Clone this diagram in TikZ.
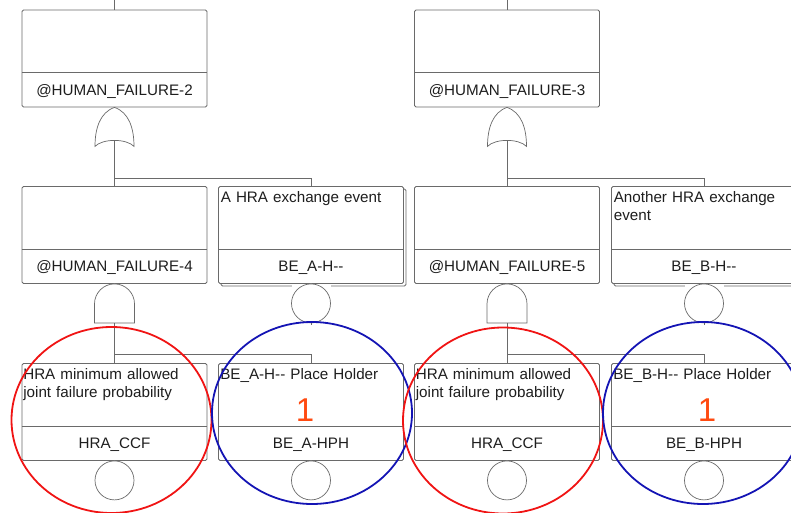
\documentclass[tikz,border=0pt]{standalone}
\usepackage{fontspec}
\setmainfont{Liberation Sans}
\usetikzlibrary{shadows}
\definecolor{ln}{HTML}{6A6A6A}
\definecolor{tx}{HTML}{1E1E1E}
\definecolor{onecol}{HTML}{FF4A10}
\definecolor{myblue}{HTML}{1414B4}
\definecolor{myred}{HTML}{F01414}
\newcommand\dd{-\kern0pt-}
\newcommand\myorgate[1]{\draw[gl,fill=white,shift={(#1)}] (0,0) .. controls (-14.5,5) and (-19.5,21) .. (-19.5,39) .. controls (-12,31) and (12,31) .. (19.5,39) .. controls (19.5,21) and (14.5,5) .. (0,0) -- cycle;}
\newcommand\myandgate[1]{\draw[gl,fill=white,shift={(#1)}] (-20,39) -- (-20,20) .. controls (-20,9) and (-11.05,0) .. (0,0) .. controls (11.05,0) and (20,9) .. (20,20) -- (20,39) -- cycle;}
\begin{document}
\begin{tikzpicture}[x=1pt,y=-1pt,
  gl/.style={draw=ln, line width=0.7pt},
  box/.style={draw=ln, line width=0.8pt, rounded corners=1.5pt, minimum width=185pt, minimum height=97pt, inner sep=0pt, fill=white},
  sbox/.style={box, copy shadow={shadow xshift=2.5pt, shadow yshift=-2.5pt, draw=ln, fill=white, line width=0.8pt}},
  lbl/.style={text=tx, font=\fontsize{15.2}{18}\selectfont, inner sep=0pt},
  desc/.style={lbl, anchor=north west, text width=182pt, align=left},
  onestyle/.style={text=onecol, font=\fontsize{33}{36}\selectfont, inner sep=0pt, anchor=base},
  ev/.style={circle, draw=ln, line width=0.7pt, minimum size=39pt, inner sep=0pt, fill=white},
  hl/.style={line width=1.8pt}]
\useasboundingbox (0,0) rectangle (791,513);
% boxes
\node[box] (hf2) at (114.5,58.5) {};
\node[box] (hf3) at (507,58.5) {};
\node[box] (hf4) at (114.5,235) {};
\node[sbox] (bea) at (311,235) {};
\node[box] (hf5) at (507,235) {};
\node[sbox] (beb) at (704,235) {};
\node[box] (ccfa) at (114.5,412) {};
\node[box] (bah) at (311,412) {};
\node[box] (ccfb) at (507,412) {};
\node[box] (bbh) at (704,412) {};
% dividers
\foreach \n in {hf2,hf3,hf4,bea,hf5,beb,ccfa,bah,ccfb,bbh}
  \draw[gl] ([yshift=35pt]\n.south west) -- ([yshift=35pt]\n.south east);
% labels
\node[lbl,anchor=base] (hf2l) at ([yshift=12.3pt]hf2.south) {@HUMAN\_FAILURE-2};
\node[lbl,anchor=base] (hf3l) at ([yshift=12.3pt]hf3.south) {@HUMAN\_FAILURE-3};
\node[lbl,anchor=base] (hf4l) at ([yshift=12.3pt]hf4.south) {@HUMAN\_FAILURE-4};
\node[lbl,anchor=base] (beal) at ([yshift=12.3pt]bea.south) {BE\_A-H\dd};
\node[lbl,anchor=base] (hf5l) at ([yshift=12.3pt]hf5.south) {@HUMAN\_FAILURE-5};
\node[lbl,anchor=base] (bebl) at ([yshift=12.3pt]beb.south) {BE\_B-H\dd};
\node[lbl,anchor=base] (ccfal) at ([yshift=12.3pt]ccfa.south) {HRA\_CCF};
\node[lbl,anchor=base] (bahl) at ([yshift=12.3pt]bah.south) {BE\_A-HPH};
\node[lbl,anchor=base] (ccfbl) at ([yshift=12.3pt]ccfb.south) {HRA\_CCF};
\node[lbl,anchor=base] (bbhl) at ([yshift=12.3pt]bbh.south) {BE\_B-HPH};
% descriptions
\node[desc] (bead) at ([xshift=2.5pt,yshift=-5pt]bea.north west) {A HRA exchange event};
\node[desc] (bebd) at ([xshift=2.5pt,yshift=-5pt]beb.north west) {Another HRA exchange event};
\node[desc] (ccfad) at ([xshift=1.5pt,yshift=-5pt]ccfa.north west) {HRA minimum allowed\\joint failure probability};
\node[desc] (bahd) at ([xshift=2pt,yshift=-5pt]bah.north west) {BE\_A-H\dd{} Place Holder};
\node[desc] (ccfbd) at ([xshift=1.5pt,yshift=-5pt]ccfb.north west) {HRA minimum allowed\\joint failure probability};
\node[desc] (bbhd) at ([xshift=2pt,yshift=-5pt]bbh.north west) {BE\_B-H\dd{} Place Holder};
\node[onestyle] (bahv) at ([xshift=-6pt,yshift=39.5pt]bah.south) {1};
\node[onestyle] (bbhv) at ([xshift=3pt,yshift=39.5pt]bbh.south) {1};
% top stubs
\coordinate (t2) at (114.5,0);
\coordinate (t3) at (507,0);
\draw[gl] (t2) -- (hf2.north);
\draw[gl] (t3) -- (hf3.north);
% OR gates and joins
\myorgate{hf2.south}
\myorgate{hf3.south}
\coordinate (or2b) at ([yshift=-33pt]hf2.south);
\coordinate (or3b) at ([yshift=-33pt]hf3.south);
\coordinate (j2) at ([yshift=-71pt]hf2.south);
\coordinate (j3) at ([yshift=-71pt]hf3.south);
\draw[gl] (or2b) -- (j2) -| (bea.north);
\draw[gl] (j2) -- (hf4.north);
\draw[gl] (or3b) -- (j3) -| (beb.north);
\draw[gl] (j3) -- (hf5.north);
% AND gates and joins
\myandgate{hf4.south}
\myandgate{hf5.south}
\coordinate (and4b) at ([yshift=-39pt]hf4.south);
\coordinate (and5b) at ([yshift=-39pt]hf5.south);
\coordinate (j4) at ([yshift=-70.5pt]hf4.south);
\coordinate (j5) at ([yshift=-70.5pt]hf5.south);
\draw[gl] (and4b) -- (j4) -| (bah.north);
\draw[gl] (j4) -- (ccfa.north);
\draw[gl] (and5b) -- (j5) -| (bbh.north);
\draw[gl] (j5) -- (ccfb.north);
% basic event circles
\fill[white] ([xshift=-19.5pt,yshift=-1pt]bea.south) rectangle ([xshift=19.5pt,yshift=-4pt]bea.south);
\fill[white] ([xshift=-19.5pt,yshift=-1pt]beb.south) rectangle ([xshift=19.5pt,yshift=-4pt]beb.south);
\node[ev] (beac) at ([yshift=-19.5pt]bea.south) {};
\node[ev] (bebc) at ([yshift=-19.5pt]beb.south) {};
\draw[gl] (beac.south) -- ++(0,2);
\draw[gl] (bebc.south) -- ++(0,2);
\node[ev] (ccfac) at ([yshift=-19.5pt]ccfa.south) {};
\node[ev] (bahc) at ([yshift=-19.5pt]bah.south) {};
\node[ev] (ccfbc) at ([yshift=-19.5pt]ccfb.south) {};
\node[ev] (bbhc) at ([yshift=-19.5pt]bbh.south) {};
% highlight ellipses
\draw[hl, myred] (111.5,420) ellipse [x radius=100, y radius=93];
\draw[hl, myblue] (312,413) ellipse [x radius=100, y radius=91];
\draw[hl, myred] (503,420.5) ellipse [x radius=100, y radius=93];
\draw[hl, myblue] (703,413) ellipse [x radius=100, y radius=91];
\end{tikzpicture}
\end{document}
